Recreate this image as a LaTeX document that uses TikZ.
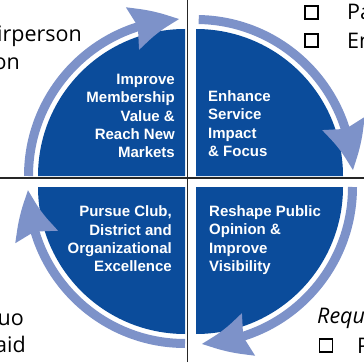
\documentclass[tikz,border=0pt]{standalone}
\usepackage{fontspec}
\setmainfont{Open Sans}
\newfontfamily\goalfont{Liberation Sans}
\usetikzlibrary{arrows.meta,bending}
\definecolor{quadblue}{RGB}{11,76,155}
\definecolor{ringblue}{RGB}{125,146,201}
\begin{document}
\begin{tikzpicture}[x=1pt,y=1pt,
  quad/.style={fill=quadblue},
  ring/.style={draw=ringblue,line width=9pt,-{Stealth[length=48pt,width=42pt,inset=5pt,bend]}},
  goal/.style={text=white,inner sep=0pt,font=\goalfont\bfseries\fontsize{15}{18.3}\selectfont},
  cell/.style={inner sep=0pt,anchor=base east,font=\fontsize{21.5}{28}\selectfont},
  tick/.style={draw,line width=1.8pt,minimum size=13pt,inner sep=0pt}]
	\useasboundingbox (0,0) rectangle (364,362);
	% table lines
	\draw[line width=1.2pt,black!85] (187.3,0) -- (187.3,362);
	\draw[line width=1.2pt,black!85] (0,184) -- (364,184);
	% quadrants
	\fill[quad] (185,186) -- ++(180:147) arc[start angle=180,end angle=90,radius=147] -- cycle;
	\fill[quad] (196,186) -- ++(90:147) arc[start angle=90,end angle=0,radius=147] -- cycle;
	\fill[quad] (196,175) -- ++(0:147) arc[start angle=0,end angle=-90,radius=147] -- cycle;
	\fill[quad] (185,175) -- ++(270:147) arc[start angle=270,end angle=180,radius=147] -- cycle;
	% ring of arrows
	\draw[ring] (185,186) ++(180:156.5) arc[start angle=180,end angle=92,radius=156.5];
	\draw[ring] (196,186) ++(89:156.5) arc[start angle=89,end angle=2,radius=156.5];
	\draw[ring] (196,175) ++(0:156.5) arc[start angle=0,end angle=-88,radius=156.5];
	\draw[ring] (185,175) ++(270:156.5) arc[start angle=270,end angle=181,radius=156.5];
	% goals
	\node[goal,align=right,anchor=east] (membership) at (175,246) {Improve\\Membership\\Value \&\\Reach New\\Markets};
	\node[goal,align=left,anchor=west] (service) at (208,238.5) {Enhance\\Service\\Impact\\\& Focus};
	\node[goal,align=right,anchor=east] (excellence) at (172,123) {Pursue Club,\\District and\\Organizational\\Excellence};
	\node[goal,align=left,anchor=west] (opinion) at (209,122) {Reshape Public\\Opinion \&\\Improve\\Visibility};
	% text of the table cells
	\node[cell] (chair) at (82,320.5) {irperson};
	\node[cell] (chairon) at (20,292) {on};
	\node[cell] (quo) at (24,37) {quo};
	\node[cell] (paid) at (26,9.3) {aid};
	\node[tick] (paBox) at (311.2,349.5) {};
	\node[tick] (enBox) at (311.2,321.2) {};
	\node[tick] (reqBox) at (326,16.5) {};
	\node[cell,anchor=base west] (pa) at (347,342) {Pa};
	\node[cell,anchor=base west] (en) at (347,313.7) {En};
	\node[cell,anchor=base west,font=\fontsize{21.5}{28}\selectfont\itshape] (requ) at (317,38.3) {Requ};
	\node[cell,anchor=base west] (reqItem) at (357,9) {P};
\end{tikzpicture}
\end{document}
